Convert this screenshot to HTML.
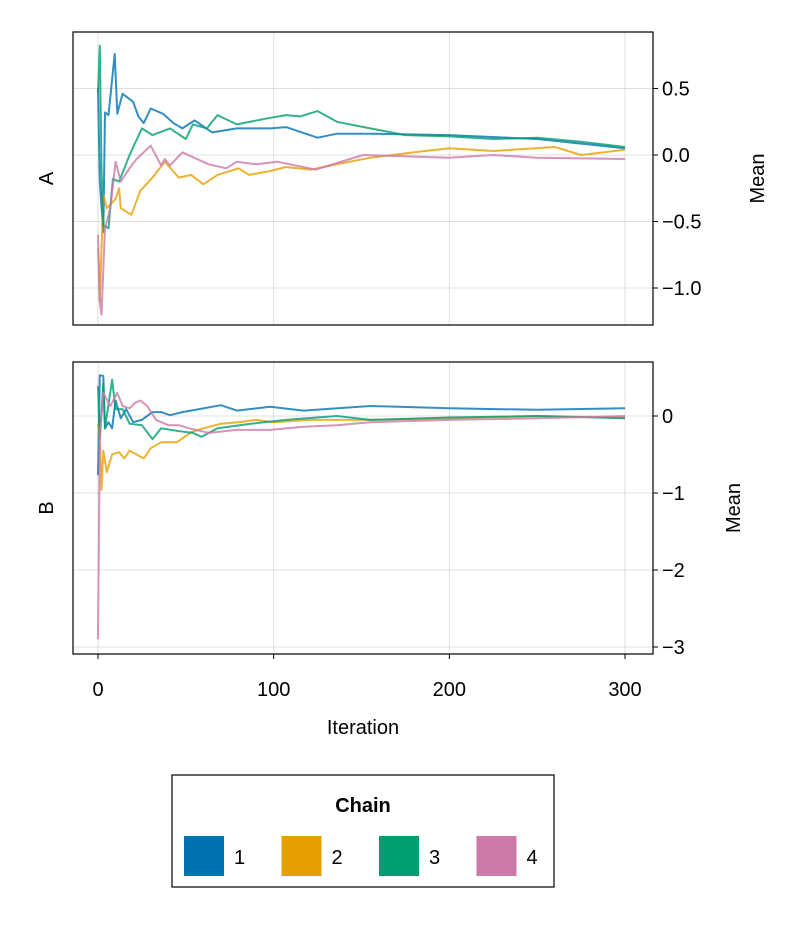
<!DOCTYPE html>
<html><head><meta charset="utf-8"><style>
body{margin:0;background:#fff;font-family:"Liberation Sans",sans-serif}
</style></head><body>
<svg id="c" width="800" height="920" xmlns="http://www.w3.org/2000/svg" font-family="Liberation Sans, sans-serif"></svg>
<script>
const colors=["#0072b2","#e69f00","#009e73","#cc79a7"];
const chainNames=["1","2","3","4"];
const xTicks=[0,100,200,300];
const aTicks=[0.5,0.0,-0.5,-1.0];
const aTickLabels=["0.5","0.0","−0.5","−1.0"];
const bTicks=[0,-1,-2,-3];
const bTickLabels=["0","−1","−2","−3"];
// Panel A
const a1It=[0,1,3,4,6,9.5,11,14,20,23,26,30,37,43,48,55,65,79,98,107,125,136,155,200,250,300];
const a1V=[0.5,-0.2,-0.58,0.32,0.3,0.76,0.31,0.46,0.4,0.29,0.24,0.35,0.31,0.24,0.2,0.26,0.17,0.2,0.2,0.21,0.13,0.16,0.16,0.15,0.12,0.05];
const a2It=[0,1,3,5,10,12,13,19,24,31,38,46,53,60,68,80,86,98,107,121,136,155,180,200,225,260,275,300];
const a2V=[-0.7,-1.1,-0.3,-0.4,-0.33,-0.25,-0.4,-0.45,-0.27,-0.17,-0.05,-0.17,-0.15,-0.22,-0.15,-0.1,-0.15,-0.12,-0.09,-0.11,-0.07,-0.02,0.02,0.05,0.03,0.06,0.0,0.04];
const a3It=[0,1,2,3,6,8.5,12,18,25,31,41,50,54,62,68,79,98,107,115,125,136,155,175,200,225,250,275,300];
const a3V=[0.47,0.82,-0.1,-0.53,-0.55,-0.18,-0.2,0.0,0.2,0.15,0.2,0.12,0.23,0.2,0.3,0.23,0.28,0.3,0.29,0.33,0.25,0.2,0.15,0.14,0.12,0.13,0.1,0.06];
const a4It=[0,1,2,4,7,10,13,19,22,30,36,38,41,48,63,73,79,90,102,124,136,151,200,225,250,300];
const a4V=[-0.6,-1.1,-1.2,-0.55,-0.4,-0.05,-0.2,-0.08,-0.03,0.07,-0.08,-0.03,-0.08,0.02,-0.07,-0.1,-0.05,-0.07,-0.05,-0.11,-0.06,0.0,-0.02,0.0,-0.02,-0.03];
// Panel B
const b1It=[0,1,3,4,6,8,10,13,16,20,25,31,36,41,48,70,79,98,117,155,200,250,300];
const b1V=[-0.77,0.53,0.52,-0.16,-0.08,-0.16,0.2,-0.03,0.09,-0.08,-0.05,0.05,0.05,0.01,0.05,0.14,0.07,0.12,0.07,0.13,0.1,0.08,0.1];
const b2It=[0,1,2,3,5,8,12,15,18,22,26,30,36,45,53,60,70,80,90,100,120,155,200,250,300];
const b2V=[-0.1,-0.3,-0.96,-0.45,-0.73,-0.5,-0.47,-0.55,-0.45,-0.5,-0.55,-0.42,-0.34,-0.34,-0.21,-0.16,-0.1,-0.08,-0.05,-0.08,-0.05,-0.05,-0.03,0.0,-0.02];
const b3It=[0,1,3,4,8,10,14,18,25,31,36,47,54,59,68,87,107,136,155,200,250,300];
const b3V=[0.39,-0.3,0.43,-0.16,0.47,0.09,0.09,-0.1,-0.12,-0.3,-0.16,-0.2,-0.22,-0.27,-0.16,-0.1,-0.05,0.0,-0.05,-0.02,0.0,-0.03];
const b4It=[0,1,3,7,11,14,18,21,24,28,33,40,46,52,63,79,98,117,136,155,200,250,300];
const b4V=[-2.9,-0.3,0.3,0.13,0.3,0.13,0.1,0.17,0.2,0.13,-0.05,-0.12,-0.12,-0.16,-0.22,-0.18,-0.18,-0.14,-0.12,-0.08,-0.05,-0.03,0.0];

const NS="http://www.w3.org/2000/svg";
const svg=document.getElementById("c");
function mk(t,at,parent){const e=document.createElementNS(NS,t);for(const k in at)e.setAttribute(k,at[k]);(parent||svg).appendChild(e);return e;}
const X0=73,X1=653;
const xs=v=>98+v*(625-98)/300;
function panel(name,top,bot,ys,ticks,labels,series,label){
  const g=mk("g",{});
  
  
  xTicks.forEach(t=>{const l=mk("line",{x1:xs(t),x2:xs(t),y1:top,y2:bot,stroke:"#000","stroke-opacity":0.12,"stroke-width":1},g);
    });
  ticks.forEach((t,i)=>{const y=ys(t);
    const l=mk("line",{x1:X0,x2:X1,y1:y,y2:y,stroke:"#000","stroke-opacity":0.12,"stroke-width":1},g);
    
    mk("line",{x1:X1,x2:X1+5,y1:y,y2:y,stroke:"#000"},g);
    const tx=mk("text",{x:X1+9,y:y+7,"font-size":20},g);tx.textContent=labels[i];
    });
  series.forEach((s,i)=>{
    const d=s[0].map((it,j)=>(j?"L":"M")+xs(it).toFixed(1)+","+ys(s[1][j]).toFixed(1)).join("");
    const p=mk("path",{d:d,fill:"none",stroke:colors[i],"stroke-opacity":0.8,"stroke-width":2,"stroke-linejoin":"round"},g);
    });
  const r=mk("rect",{x:X0,y:top,width:X1-X0,height:bot-top,fill:"none",stroke:"#000","stroke-width":1.2},g);
  
  const cy=(top+bot)/2;
  const t1=mk("text",{x:0,y:0,"font-size":20,"text-anchor":"middle",transform:`translate(53,${cy}) rotate(-90)`},g);t1.textContent=label;
  
  const t2=mk("text",{x:0,y:0,"font-size":20,"text-anchor":"middle",transform:`translate(${name},${cy}) rotate(-90)`},g);t2.textContent="Mean";
  
}
panel(764,32,325,v=>155-v*133,aTicks,aTickLabels,[[a1It,a1V],[a2It,a2V],[a3It,a3V],[a4It,a4V]],"A");
panel(740,362,654,v=>416-v*77,bTicks,bTickLabels,[[b1It,b1V],[b2It,b2V],[b3It,b3V],[b4It,b4V]],"B");
xTicks.forEach(t=>{mk("line",{x1:xs(t),x2:xs(t),y1:654,y2:659,stroke:"#000"});
  const tx=mk("text",{x:xs(t),y:696,"font-size":20,"text-anchor":"middle"});tx.textContent=t;
  });
const xt=mk("text",{x:363,y:734,"font-size":20,"text-anchor":"middle"});xt.textContent="Iteration";

const lg=mk("g",{});

mk("rect",{x:172,y:775,width:382,height:112,fill:"#fff",stroke:"#000","stroke-width":1.2},lg);
const lt=mk("text",{x:363,y:812,"font-size":20,"font-weight":"bold","text-anchor":"middle"},lg);lt.textContent="Chain";

chainNames.forEach((n,i)=>{const x=184+i*97.5;
  const e=mk("g",{},lg);
  
  mk("rect",{x:x,y:836,width:40,height:40,fill:colors[i]},e);
  const t=mk("text",{x:x+50,y:864,"font-size":20},e);t.textContent=n;});
</script>
</body></html>
